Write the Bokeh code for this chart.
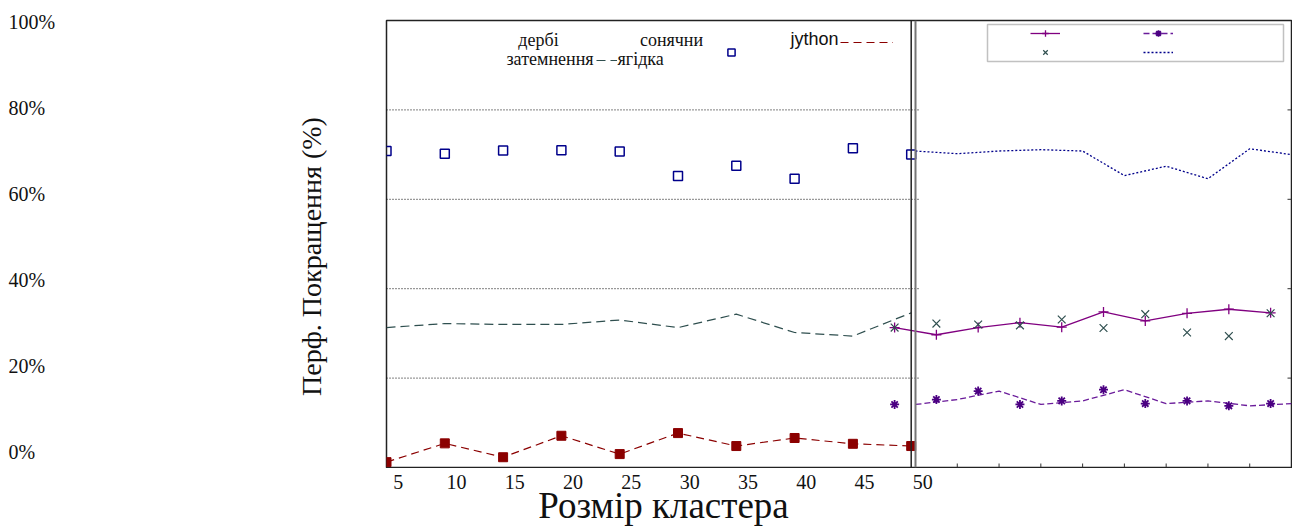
import math
from bokeh.plotting import figure
from bokeh.layouts import row, column
from bokeh.models import (Range1d, Span, Label, Legend, LegendItem, BoxAnnotation)
from bokeh.core.properties import value
from bokeh.embed import file_html
from bokeh.resources import INLINE

# ---------------- data ----------------
cluster = [4, 9, 14, 19, 24, 29, 34, 39, 44, 49]
x_ticks = [5, 10, 15, 20, 25, 30, 35, 40, 45, 50]
x_tick_labels = [str(t) for t in x_ticks]
y_ticks = [0, 20, 40, 60, 80, 100]
y_tick_labels = ["0%", "20%", "40%", "60%", "80%", "100%"]
series_names = ["дербі", "сонячни", "jython", "затемнення", "ягідка"]
x_title = "Розмір кластера"
y_title = "Перф. Покращення (%)"

# left panel
jython = [1.2, 5.4, 2.3, 7.1, 3.0, 7.7, 4.8, 6.6, 5.3, 4.8]
zatemnennya = [31.3, 32.2, 32.0, 32.0, 33.0, 31.3, 34.3, 30.2, 29.4, 34.6]
yagidka = [70.8, 70.2, 70.9, 71.0, 70.7, 65.2, 67.5, 64.6, 71.4, 70.0]
# right panel
derbi = [31.3, 29.7, 31.3, 32.4, 31.4, 34.8, 32.8, 34.5, 35.4, 34.6]
sonyachni = [14.1, 15.2, 17.1, 14.1, 14.9, 17.4, 14.3, 14.9, 13.8, 14.3]
zatemnennya_x = [31.3, 32.2, 32.0, 31.8, 33.1, 31.2, 34.3, 30.2, 29.4, 34.5]
yagidka_line = [70.8, 70.2, 70.8, 71.1, 70.8, 65.3, 67.4, 64.6, 71.3, 70.0]

# ---------------- layout (page pixels) ----------------
PAGE_W, PAGE_H = 1292, 527
FL, FR, FT, FB = 386.0, 1291.0, 20.0, 467.0
LP_R = 910.7          # right edge of left panel
RP_L = 915.0          # left edge of right panel
sx = (LP_R - FL) / (cluster[-1] - cluster[0])
x_lo = cluster[0]
x_hi = x_lo + (FR - FL) / sx
sr = (FR - RP_L) / (cluster[-1] - cluster[0])
r_lo = cluster[0] - (RP_L - FL) / sr
r_hi = cluster[-1]
half = (cluster[1] - cluster[0]) / 2.0
sy = (FB - FT) / 100.0
# the percentage labels sit on their own scale (left column, full page height)
lab_top_px, lab_bot_px = 21.7, 451.5
sl = (lab_bot_px - lab_top_px) / 100.0
lab_hi = 100 + lab_top_px / sl
lab_lo = lab_hi - PAGE_H / sl


def X(px):
    return x_lo + (px - FL) / sx


def Y(py):
    return (FB - py) / sy


SERIF = "Liberation Serif"
TXT = "#111111"

# ---------------- left column: y labels + y title ----------------
LW = int(FL) - 2
left = figure(frame_width=LW, frame_height=PAGE_H, min_border_left=0, min_border_right=0,
              min_border_top=0, min_border_bottom=0,
              x_range=Range1d(0, LW), y_range=Range1d(lab_lo, lab_hi),
              x_axis_location=None, y_axis_location=None, toolbar_location=None,
              output_backend="svg", outline_line_color=None,
              background_fill_color="white", border_fill_color="white")
left.grid.visible = False
left.text(x=[8] * len(y_ticks), y=y_ticks, text=y_tick_labels, text_align="left",
          text_baseline="middle", text_font=value(SERIF), text_font_size=value("20px"),
          text_color=TXT)
left.text(x=[311], y=[lab_hi - 256 / sl], text=[y_title], angle=math.pi / 2,
          text_align="center", text_baseline="middle", text_font=value(SERIF),
          text_font_size=value("28px"), text_color=TXT)

# ---------------- main plot ----------------
xr = Range1d(x_lo, x_hi)
p = figure(frame_width=int(FR - FL), frame_height=int(FB - FT),
           min_border_left=2, min_border_right=1, min_border_top=int(FT), min_border_bottom=1,
           x_range=xr, y_range=Range1d(0, 100),
           x_axis_location=None, y_axis_location=None, toolbar_location=None,
           output_backend="svg", background_fill_color="white", border_fill_color="white")
p.extra_x_ranges = {"r": Range1d(r_lo, r_hi), "rm": Range1d(r_lo + half, r_hi + half)}
p.grid.visible = False
p.outline_line_color = "#222222"
p.outline_line_width = 1.5

# dotted grid of left panel
gy = y_ticks[1:-1]
p.segment(x0=[cluster[0]] * len(gy), x1=[X(918)] * len(gy), y0=gy, y1=gy,
          line_color="#000000", line_dash="1 2", line_width=1)

# panel borders
p.add_layout(Span(location=cluster[-1], dimension="height", line_color="#222222", line_width=1.5))
p.add_layout(Span(location=cluster[0], dimension="height", x_range_name="r",
                  line_color="#777777", line_width=2))

# right panel ticks (inward)
p.ray(x=cluster[1:-1], y=[0] * (len(cluster) - 2), length=4, length_units="screen",
      angle=math.pi / 2, x_range_name="r", line_color="#333333", line_width=1)
p.ray(x=[cluster[-1]] * len(gy), y=gy, length=4, length_units="screen",
      angle=math.pi, x_range_name="r", line_color="#333333", line_width=1)

# ---- left panel series ----
r_jy_line = p.line(cluster, jython, line_color="#8B0000", line_dash="8 5", line_width=1.2)
p.scatter(cluster, jython, marker="square", size=9, fill_color="#8B0000", line_color="#8B0000")
r_za = p.line(cluster, zatemnennya, line_color="#2F4F4F", line_dash="9 5", line_width=1.2)
r_ya = p.scatter(cluster, yagidka, marker="square", size=9, fill_color=None,
                 line_color="#00008B", line_width=1.5)

# ---- right panel series ----
r_de_line = p.line(cluster, derbi, x_range_name="rm", line_color="#800080", line_width=1.3)
r_de_pts = p.scatter(cluster, derbi, x_range_name="rm", marker="cross", size=10,
                     line_color="#800080", line_width=1.3)
r_so_line = p.line(cluster, sonyachni, x_range_name="r", line_color="#6A1B9A",
                   line_dash="6 3", line_width=1.3)
r_so_pts = p.scatter(cluster, sonyachni, x_range_name="rm", marker="asterisk", size=9,
                     line_color="#4B0082", line_width=1.8)
r_zx = p.scatter(cluster, zatemnennya_x, x_range_name="rm", marker="x", size=11,
                 line_color="#2F4F4F", line_width=1.2)
r_yl = p.line(cluster, yagidka_line, x_range_name="r", line_color="#00008B",
              line_dash="2 2", line_width=1.3)


# ---- left legend texts ----
def lab(txt, px, py, align, font=SERIF):
    p.add_layout(Label(x=X(px), y=Y(py), text=txt, text_align=align,
                       text_baseline="alphabetic", text_font=font,
                       text_font_size="18px", text_color=TXT))


lab(series_names[0], 538, 39.5, "center")
lab(series_names[1], 671, 39.5, "center")
lab(series_names[2], 790, 38.5, "left", "Liberation Sans")
lab(series_names[3], 506, 58.5, "left")
lab(series_names[4], 617, 58.5, "left")


def sample(renderers, left_px, cy_px, gw, gh):
    lg = Legend(items=[LegendItem(label="", renderers=renderers)],
                location=(left_px - FL, FB - (cy_px + gh / 2.0)),
                glyph_width=gw, glyph_height=gh, label_height=gh, label_width=1,
                label_standoff=0, padding=0, margin=0, spacing=0,
                label_text_font_size="1px",
                border_line_color=None, background_fill_alpha=0)
    p.add_layout(lg)


sample([r_jy_line], 840, 41.7, 53, 10)
sample([r_za], 596, 60, 21, 10)
sample([r_ya], 721.6, 52, 18, 18)

# ---- right legend ----
p.add_layout(BoxAnnotation(left=X(987), right=X(1283), top=Y(24), bottom=Y(61),
                           fill_color=None, line_color="#333333", line_width=1.5))
rl = Legend(items=[LegendItem(label="", renderers=[r_de_line, r_de_pts]),
                   LegendItem(label="", renderers=[r_zx]),
                   LegendItem(label="", renderers=[r_so_line, r_so_pts]),
                   LegendItem(label="", renderers=[r_yl])],
            orientation="vertical", nrows=2,
            location=(1030 - FL, FB - 60.3),
            glyph_width=30, glyph_height=16, label_height=16, label_width=80,
            label_standoff=0, padding=0, margin=0, spacing=3,
            label_text_font_size="1px",
            border_line_color=None, background_fill_alpha=0)
p.add_layout(rl)

# ---------------- bottom strip: x tick labels + x title ----------------
BH = PAGE_H - int(FB) - 1
bottom = figure(frame_width=int(FR - FL), frame_height=BH,
                min_border_left=2, min_border_right=1, min_border_top=0, min_border_bottom=0,
                x_range=xr, y_range=Range1d(0, BH),
                x_axis_location=None, y_axis_location=None, toolbar_location=None,
                output_backend="svg", outline_line_color=None,
                background_fill_color="white", border_fill_color="white")
bottom.grid.visible = False
top_px = FB + 1
bottom.text(x=x_ticks, y=[BH - (481.5 - top_px)] * len(x_ticks), text=x_tick_labels,
            text_align="center", text_baseline="middle", text_font=value(SERIF),
            text_font_size=value("20px"), text_color=TXT)
bottom.text(x=[X(663)], y=[BH - (505 - top_px)], text=[x_title], text_align="center",
            text_baseline="alphabetic", text_font=value(SERIF),
            text_font_size=value("37px"), text_color=TXT)

layout = row(left, column(p, bottom))
open("out.html", "w").write(file_html(layout, INLINE))
